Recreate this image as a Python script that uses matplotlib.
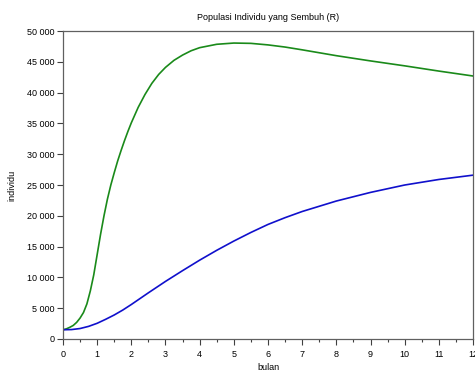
import numpy as np
import matplotlib
matplotlib.use('Agg')
import matplotlib.pyplot as plt
from matplotlib.ticker import FuncFormatter, MultipleLocator

# bulan ke-, populasi sembuh R
bulan_hijau = [0, 0.1, 0.2, 0.3, 0.4, 0.5, 0.6, 0.7, 0.8, 0.9, 1.0, 1.1, 1.2,
               1.3, 1.4, 1.5, 1.6, 1.7, 1.8, 1.9, 2.0, 2.2, 2.4, 2.6, 2.8, 3.0,
               3.25, 3.5, 3.75, 4.0, 4.5, 5.0, 5.5, 6.0, 6.5, 7, 8, 9, 10, 11, 12]
R_hijau = [1500, 1650, 1900, 2200, 2700, 3400, 4300, 5700, 7800, 10400, 13700,
           17000, 20000, 22700, 25000, 27000, 28900, 30600, 32200, 33700, 35100,
           37600, 39700, 41500, 42950, 44100, 45250, 46100, 46800, 47300, 47850,
           48050, 48000, 47750, 47400, 46950, 46000, 45150, 44350, 43500, 42700]

bulan_biru = [0, 0.25, 0.5, 0.75, 1.0, 1.25, 1.5, 1.75, 2.0, 2.25, 2.5, 3.0,
              3.5, 4.0, 4.5, 5.0, 5.5, 6, 6.5, 7, 8, 9, 10, 11, 12]
R_biru = [1500, 1530, 1700, 2050, 2550, 3200, 3900, 4700, 5600, 6550, 7500,
          9350, 11100, 12800, 14400, 15900, 17300, 18600, 19700, 20700, 22400,
          23800, 25000, 25900, 26600]

plt.rcParams['font.family'] = ['Liberation Sans', 'DejaVu Sans']

fig = plt.figure(figsize=(4.75, 3.74), dpi=100)
ax = fig.add_axes([0.1326, 0.0936, 0.8632, 0.8234])

ax.plot(bulan_hijau, R_hijau, color='#1a8a1a', lw=1.2)
ax.plot(bulan_biru, R_biru, color='#1010cc', lw=1.2)

ax.set_xlim(0, 12)
ax.set_ylim(0, 50000)
ax.xaxis.set_major_locator(MultipleLocator(1))
ax.xaxis.set_minor_locator(MultipleLocator(0.5))
ax.yaxis.set_major_locator(MultipleLocator(5000))
ax.yaxis.set_major_formatter(FuncFormatter(lambda v, p: f'{int(v):,}'.replace(',', ' ')))

for s in ax.spines.values():
    s.set_color('#606060')
    s.set_linewidth(0.9)
ax.tick_params(which='major', direction='out', length=4, width=0.8,
               color='#404040', labelsize=6.5, pad=2)
ax.tick_params(which='minor', direction='out', length=2.5, width=0.8, color='#404040')
ax.tick_params(axis='x', pad=4)

ax.set_title('Populasi Individu yang Sembuh (R)', fontsize=6.5, pad=8)
ax.set_xlabel('bulan', fontsize=6.5, labelpad=3)
ax.set_ylabel('individu', fontsize=6.5, labelpad=8)

fig.savefig('out.png', dpi=100)
